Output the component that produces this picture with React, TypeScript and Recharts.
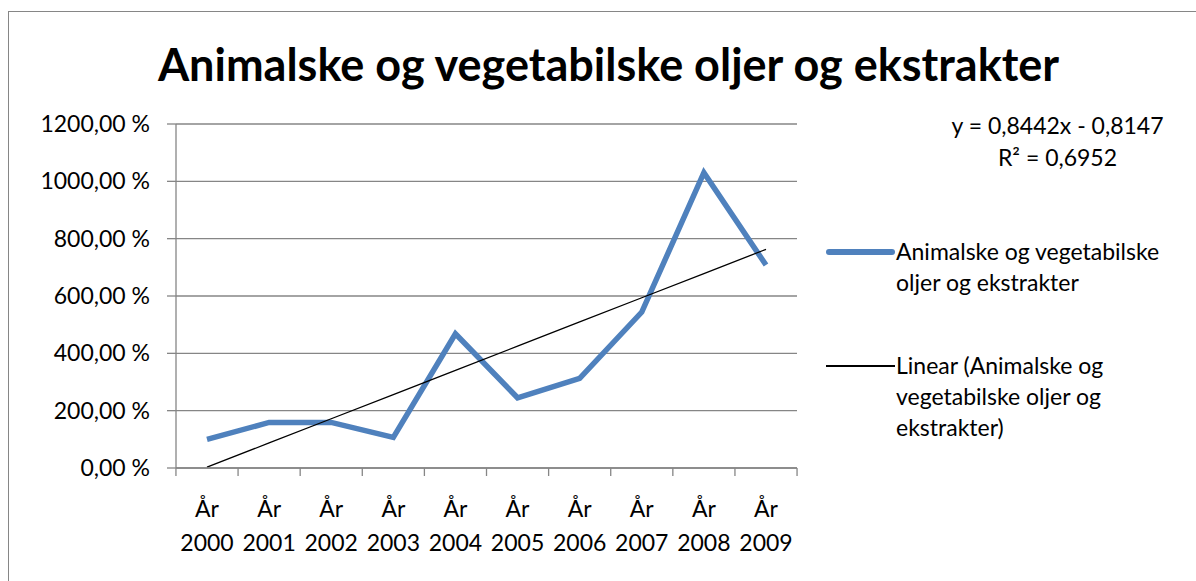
import { LineChart, Line, XAxis, YAxis, CartesianGrid } from 'recharts'

const years = ['År 2000', 'År 2001', 'År 2002', 'År 2003', 'År 2004', 'År 2005', 'År 2006', 'År 2007', 'År 2008', 'År 2009']
// growth in percent
const values = [100, 159, 159, 107, 468, 245, 313, 544, 1030, 708]
// linear trendline values (Excel: y = 0,8442x - 0,8147)
const trendValues = [2.95, 87.37, 171.79, 256.21, 340.63, 425.05, 509.47, 593.89, 678.31, 762.73]
const yTicks = [0, 200, 400, 600, 800, 1000, 1200]

const seriesName = 'Animalske og vegetabilske oljer og ekstrakter'
const trendName = 'Linear (Animalske og vegetabilske oljer og ekstrakter)'
const equationLines = ['y = 0,8442x - 0,8147', 'R² = 0,6952']
const legendLines = [
  ['Animalske og vegetabilske', 'oljer og ekstrakter'],
  ['Linear (Animalske og', 'vegetabilske oljer og', 'ekstrakter)'],
]

const chartData = years.map((year, i) => ({ year, value: values[i], trend: trendValues[i] }))

const FONT = 'Lato, "Open Sans", sans-serif'
const GRID = '#868686'
const BLUE = '#4F81BD'
const TEXT_SIZE = 23

const formatPercent = (v: number) => `${v},00 %`

// Excel style category tick: marks sit between categories, label wraps to two lines
const CategoryTick = (props: any) => {
  const { x, y, payload, index, visibleTicksCount, width } = props
  const half = width / visibleTicksCount / 2
  const [word, num] = String(payload.value).split(' ')
  return (
    <g>
      <line x1={x - half} x2={x - half} y1={y} y2={y + 8} stroke={GRID} strokeWidth={1.3} />
      {index === visibleTicksCount - 1 && (
        <line x1={x + half} x2={x + half} y1={y} y2={y + 8} stroke={GRID} strokeWidth={1.3} />
      )}
      <text x={x} y={y + 49} textAnchor="middle" fill="#000" fontSize={TEXT_SIZE} fontFamily={FONT}>{word}</text>
      <text x={x} y={y + 83} textAnchor="middle" fill="#000" fontSize={TEXT_SIZE} fontFamily={FONT}>{num}</text>
    </g>
  )
}

export default function App() {
  return (
    <div style={{ position: 'fixed', left: 0, top: 0, width: 1196, height: 581, background: '#fff', overflow: 'hidden', fontFamily: FONT }}>
      <div style={{ position: 'absolute', left: 8, top: 11, width: 1300, height: 700, borderLeft: `1.5px solid ${GRID}`, borderTop: `1.5px solid ${GRID}` }} />

      <div style={{ position: 'absolute', left: 110, top: 37, width: 997, textAlign: 'center', fontSize: 45, fontWeight: 700, lineHeight: '54px', color: '#000', whiteSpace: 'nowrap' }}>
        {seriesName}
      </div>

      <div style={{ position: 'absolute', left: 0, top: 0 }}>
        <LineChart width={1196} height={581} data={chartData} margin={{ top: 124, right: 399, bottom: 23, left: 16 }}>
          <CartesianGrid vertical={false} stroke={GRID} strokeWidth={1.3} />
          <XAxis
            dataKey="year"
            height={90}
            interval={0}
            padding={{ left: 31, right: 31 }}
            tickLine={false}
            tickSize={0}
            tickMargin={0}
            axisLine={{ stroke: GRID, strokeWidth: 1.3 }}
            tick={<CategoryTick />}
          />
          <YAxis
            width={160}
            domain={[0, 1200]}
            ticks={yTicks}
            tickFormatter={formatPercent}
            tickSize={9}
            tickMargin={17}
            axisLine={{ stroke: GRID, strokeWidth: 1.3 }}
            tickLine={{ stroke: GRID, strokeWidth: 1.3 }}
            tick={{ fill: '#000', fontSize: TEXT_SIZE, fontFamily: FONT }}
          />
          <Line
            name={seriesName}
            dataKey="value"
            stroke={BLUE}
            strokeWidth={5.5}
            dot={false}
            isAnimationActive={false}
          />
          <Line
            name={trendName}
            dataKey="trend"
            stroke="#000"
            strokeWidth={1.3}
            dot={false}
            isAnimationActive={false}
          />
        </LineChart>
      </div>

      <div style={{ position: 'absolute', left: 950, top: 109, width: 215, textAlign: 'center', fontSize: TEXT_SIZE, lineHeight: '32px', color: '#000', whiteSpace: 'nowrap' }}>
        {equationLines.map((l) => <div key={l}>{l}</div>)}
      </div>

      {legendLines.map((lines, i) => (
        <div key={i} style={{ position: 'absolute', left: 826, top: i === 0 ? 236 : 350, display: 'flex', alignItems: 'flex-start' }}>
          <div style={{ width: 70, height: 32, display: 'flex', alignItems: 'center' }}>
            <div style={{ width: 69, height: i === 0 ? 5.5 : 1.5, background: i === 0 ? BLUE : '#000', borderRadius: i === 0 ? 3 : 0 }} />
          </div>
          <div style={{ fontSize: TEXT_SIZE, lineHeight: '31px', color: '#000', whiteSpace: 'nowrap' }}>
            {lines.map((l) => <div key={l}>{l}</div>)}
          </div>
        </div>
      ))}
    </div>
  )
}
